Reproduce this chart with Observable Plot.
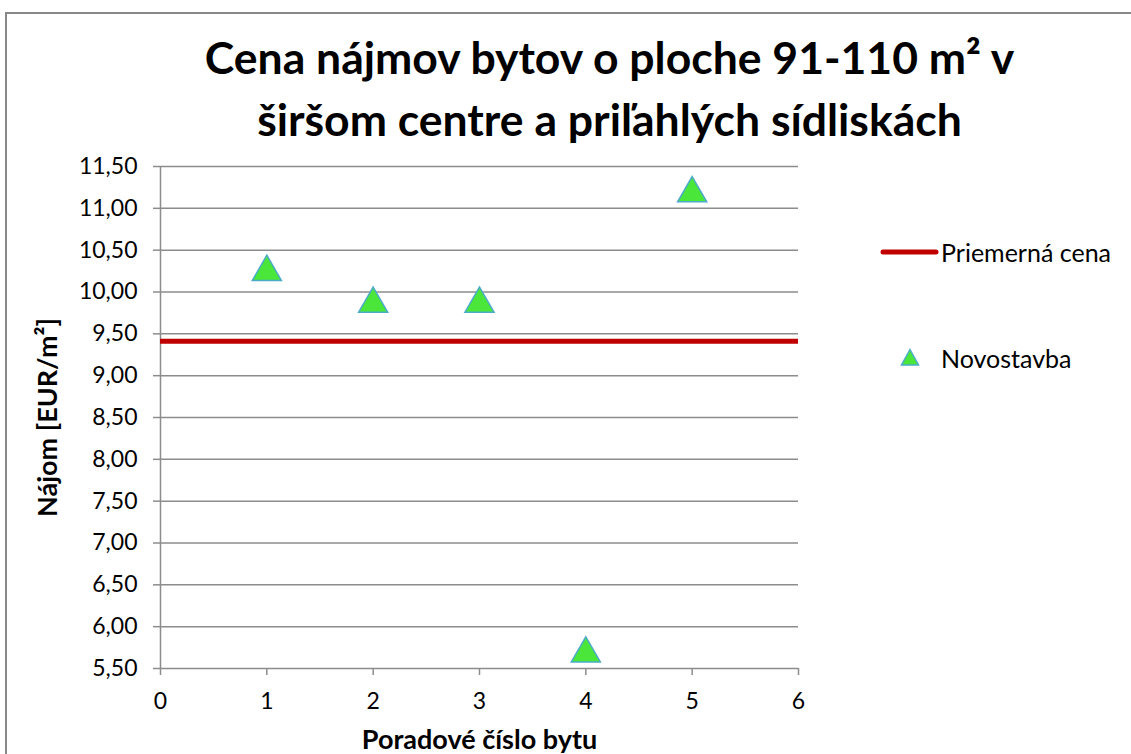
<!DOCTYPE html>
<html>
<head>
<meta charset="utf-8">
<script src="https://cdn.jsdelivr.net/npm/d3@7"></script>
<script src="https://cdn.jsdelivr.net/npm/@observablehq/plot@0.6"></script>
<style>
  html, body { margin: 0; padding: 0; background: #fff; }
  #page { position: relative; width: 1131px; height: 754px; overflow: hidden; font-family: Lato, "Open Sans", sans-serif; }
  #frame { position: absolute; left: 5px; top: 12px; width: 1200px; height: 800px; border: 2px solid #888; box-sizing: border-box; }
  #title { position: absolute; left: 88px; top: 26px; width: 1043px; text-align: center; font-weight: bold; font-size: 44.5px; line-height: 62px; color: #000; }
  #chart { position: absolute; left: 0; top: 140px; }
  .leg { position: absolute; font-size: 25px; line-height: 30px; color: #000; }
</style>
</head>
<body>
<div id="page">
  <div id="frame"></div>
  <div id="title"></div>
  <div id="chart"></div>
  <div id="legend"></div>
</div>
<script>
const titleLines = ["Cena nájmov bytov o ploche 91-110 m² v", "širšom centre a priľahlých sídliskách"];
const xLabel = "Poradové číslo bytu";
const yLabel = "Nájom [EUR/m²]";
const seriesNames = ["Priemerná cena", "Novostavba"];
const flats = [1, 2, 3, 4, 5];
const rents = [10.29, 9.91, 9.91, 5.73, 11.23];
const averagePrice = 9.41;
const xTicks = [0, 1, 2, 3, 4, 5, 6];
const yTicks = [5.5, 6, 6.5, 7, 7.5, 8, 8.5, 9, 9.5, 10, 10.5, 11, 11.5];

document.getElementById("title").innerHTML = titleLines.join("<br>");

const data = flats.map((f, i) => ({flat: f, rent: rents[i]}));
const gray = "#8c8c8c";
const fmt = d => d.toFixed(2).replace(".", ",");

const chart = Plot.plot({
  width: 1131,
  height: 614,
  marginLeft: 160,
  marginRight: 333,
  marginTop: 26,
  marginBottom: 86,
  x: {domain: [0, 6]},
  y: {domain: [5.5, 11.5]},
  style: {fontFamily: "Lato, 'Open Sans', sans-serif", fontSize: "23px", background: "transparent", overflow: "visible", color: "#000"},
  marks: [
    Plot.ruleY(yTicks, {stroke: gray, strokeWidth: 1.5}),
    Plot.ruleX([0], {stroke: gray, strokeWidth: 1.5}),
    Plot.axisY({ticks: yTicks, tickSize: 7, tickPadding: 16, tickFormat: fmt, stroke: gray, strokeWidth: 1.5, fill: "#000", label: null, fontSize: 23}),
    Plot.axisX({ticks: xTicks, tickSize: 7, tickPadding: 17, tickFormat: d => String(d), stroke: gray, strokeWidth: 1.5, fill: "#000", label: null, fontSize: 23}),
    Plot.ruleY([averagePrice], {x1: 0, x2: 6, stroke: "#c00000", strokeWidth: 5}),
    Plot.dot(data, {x: "flat", y: "rent", symbol: "triangle", r: 10.8, dy: 4.3, fill: "#4be63a", stroke: "#4bacc6", strokeWidth: 1.5}),
    Plot.text([yLabel], {frameAnchor: "left", textAnchor: "middle", rotate: -90, dx: -112, fontWeight: "bold", fontSize: 27, fill: "#000"}),
    Plot.text([xLabel], {frameAnchor: "bottom", textAnchor: "middle", dy: 80, fontWeight: "bold", fontSize: 27, fill: "#000"})
  ]
});
document.getElementById("chart").appendChild(chart);

// legend
const legend = document.getElementById("legend");
legend.innerHTML = `
  <svg style="position:absolute;left:878px;top:244px" width="64" height="16"><line x1="5" y1="8" x2="58" y2="8" stroke="#c00000" stroke-width="5" stroke-linecap="round"/></svg>
  <div class="leg" style="left:941px;top:237px">${seriesNames[0]}</div>
  <svg style="position:absolute;left:898px;top:346px" width="24" height="24"><path d="M12,3.5 L20.5,19 L3.5,19 Z" fill="#4be63a" stroke="#4bacc6" stroke-width="1.5"/></svg>
  <div class="leg" style="left:941px;top:343px">${seriesNames[1]}</div>
`;
</script>
</body>
</html>
